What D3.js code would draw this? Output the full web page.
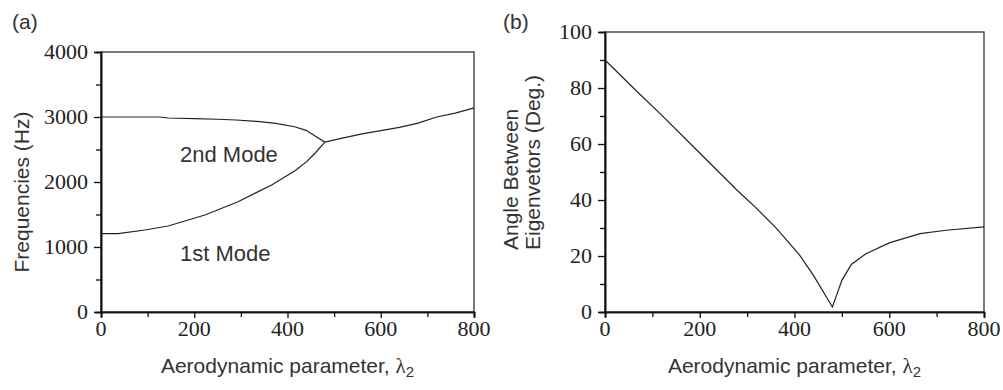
<!DOCTYPE html>
<html>
<head>
<meta charset="utf-8">
<script src="https://cdn.jsdelivr.net/npm/d3@7"></script>
<style>
  body { margin: 0; background: #fff; }
</style>
</head>
<body>
<div id="chart"></div>
<script>
// panel (a): frequencies of the two modes
var mode2Lambda = [0, 50, 100, 125, 145, 200, 250, 290, 340, 375, 415, 440, 460, 480, 520, 560, 600, 640, 680, 720, 760, 800];
var mode2Freq   = [3000, 3000, 3000, 3000, 2985, 2975, 2965, 2954, 2930, 2903, 2850, 2795, 2705, 2615, 2680, 2740, 2790, 2840, 2905, 3000, 3060, 3140];
var mode1Lambda = [0, 37, 94, 144, 223, 294, 366, 416, 441, 460, 480];
var mode1Freq   = [1205, 1205, 1262, 1323, 1492, 1697, 1954, 2174, 2313, 2450, 2615];

// panel (b): angle between eigenvectors
var angLambda = [0, 60, 120, 200, 280, 320, 360, 410, 440, 480, 500, 520, 550, 600, 665, 720, 800];
var angDeg    = [90, 80, 70.2, 56.8, 43.3, 37, 30.2, 20.5, 13.1, 1.8, 11.3, 17, 20.7, 24.7, 28, 29.2, 30.4];

var xMajor = [0, 200, 400, 600, 800];
var xMinor = [100, 300, 500, 700];
var aMajor = [0, 1000, 2000, 3000, 4000];
var aMinor = [500, 1500, 2500, 3500];
var bMajor = [0, 20, 40, 60, 80, 100];
var bMinor = [10, 30, 50, 70, 90];

var sansFont = "'Liberation Sans', Arial, sans-serif";
var serifFont = "'Liberation Serif', 'Times New Roman', serif";

var width = 1003, height = 390;
var svg = d3.select("#chart").append("svg")
    .attr("width", width)
    .attr("height", height);

function label(parent, txt, size) {
  return parent.append("text")
    .style("font-family", sansFont)
    .style("font-size", (size || 21) + "px")
    .style("fill", "#333")
    .text(txt);
}

function panel(opt) {
  var x = d3.scaleLinear().domain([0, 800]).range([opt.left, opt.right]);
  var y = d3.scaleLinear().domain(opt.yDomain).range([opt.bottom, opt.top]);
  var g = svg.append("g");

  // frame
  g.append("rect")
    .attr("x", opt.left).attr("y", opt.top)
    .attr("width", opt.right - opt.left).attr("height", opt.bottom - opt.top)
    .attr("fill", "none").attr("stroke", "#333").attr("stroke-width", 1.3);

  // minor + major ticks (no text from the axis itself)
  g.append("g").attr("transform", "translate(0," + opt.bottom + ")")
    .call(d3.axisBottom(x).tickValues(xMinor).tickFormat("").tickSize(5));
  g.append("g").attr("transform", "translate(" + opt.left + ",0)")
    .call(d3.axisLeft(y).tickValues(opt.yMinor).tickFormat("").tickSize(5));
  g.append("g").attr("transform", "translate(0," + opt.bottom + ")")
    .call(d3.axisBottom(x).tickValues(xMajor).tickFormat("").tickSize(6));
  g.append("g").attr("transform", "translate(" + opt.left + ",0)")
    .call(d3.axisLeft(y).tickValues(opt.yMajor).tickFormat("").tickSize(7));
  g.selectAll(".domain").attr("stroke", "#111").attr("stroke-width", 1.6);
  g.selectAll(".tick line").attr("stroke", "#111").attr("stroke-width", 1.3);

  // tick labels
  g.selectAll("text.xt").data(xMajor).enter().append("text")
    .attr("class", "xt")
    .attr("x", function(d){ return x(d); })
    .attr("y", opt.bottom + 24)
    .attr("text-anchor", "middle")
    .style("font-family", serifFont).style("font-size", "22px").style("fill", "#222")
    .text(function(d){ return d; });
  g.selectAll("text.yt").data(opt.yMajor).enter().append("text")
    .attr("class", "yt")
    .attr("x", opt.left - 13)
    .attr("y", function(d){ return y(d) + 7; })
    .attr("text-anchor", "end")
    .style("font-family", serifFont).style("font-size", "22px").style("fill", "#222")
    .text(function(d){ return d; });

  // lines
  var line = d3.line().x(function(d){ return x(d[0]); }).y(function(d){ return y(d[1]); });
  opt.series.forEach(function(s) {
    g.append("path")
      .datum(d3.zip(s[0], s[1]))
      .attr("d", line)
      .attr("fill", "none")
      .attr("stroke", "#222")
      .attr("stroke-width", 1.2);
  });

  // x label
  var xl = label(g, "", 21)
    .attr("x", (opt.left + opt.right) / 2).attr("y", 373)
    .attr("text-anchor", "middle");
  xl.append("tspan").text("Aerodynamic parameter, ");
  xl.append("tspan").style("font-family", serifFont).text("\u03bb");
  xl.append("tspan").style("font-size", "15px").attr("dy", 4).text("2");

  return { x: x, y: y, g: g };
}

var pa = panel({
  left: 101, right: 474, top: 52, bottom: 312,
  yDomain: [0, 4000], yMajor: aMajor, yMinor: aMinor,
  series: [[mode2Lambda, mode2Freq], [mode1Lambda, mode1Freq]]
});
var pb = panel({
  left: 605, right: 984, top: 32, bottom: 312,
  yDomain: [0, 100], yMajor: bMajor, yMinor: bMinor,
  series: [[angLambda, angDeg]]
});

// panel (a) annotations
label(pa.g, "2nd Mode", 22).attr("x", 180).attr("y", 162);
label(pa.g, "1st Mode", 22).attr("x", 180).attr("y", 261);
label(pa.g, "Frequencies (Hz)", 21)
  .attr("transform", "translate(29,192) rotate(-90)")
  .attr("text-anchor", "middle");

label(pb.g, "Angle Between", 21).attr("transform", "translate(518,250) rotate(-90)");
label(pb.g, "Eigenvetors (Deg.)", 21).attr("transform", "translate(540,250) rotate(-90)");

label(svg, "(a)", 21).attr("x", 12).attr("y", 29);
label(svg, "(b)", 21).attr("x", 503).attr("y", 29);
</script>
</body>
</html>
